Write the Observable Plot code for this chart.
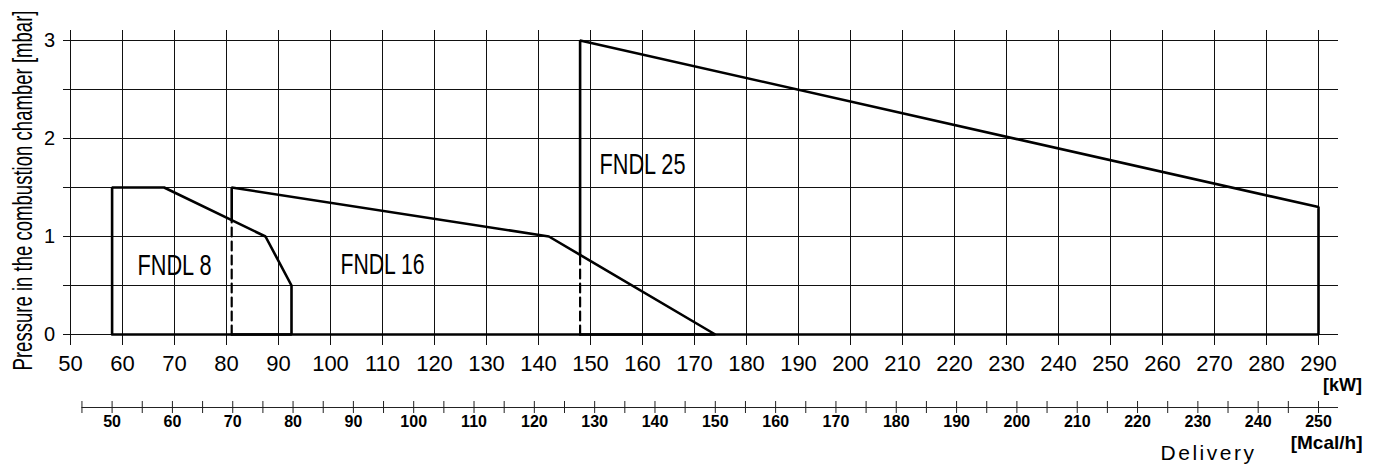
<!DOCTYPE html>
<html><head><meta charset="utf-8">
<script src="https://cdn.jsdelivr.net/npm/d3@7"></script>
<script src="https://cdn.jsdelivr.net/npm/@observablehq/plot@0.6"></script>
<style>
body{margin:0;background:#fff;}
#chart svg{display:block;}
</style></head><body><div id="chart"></div>
<script>
// ---- data ----
const series = ["FNDL 8", "FNDL 16", "FNDL 25"];
const fndl8Kw    = [58, 58, 68, 87.5, 92.5, 92.5, 58];
const fndl8Mbar  = [0, 1.5, 1.5, 1.0, 0.5, 0, 0];
const fndl16Kw   = [81, 142, 174, 81];
const fndl16Mbar = [1.5, 1.0, 0, 0];
const fndl25Kw   = [148, 290, 290, 148];
const fndl25Mbar = [3.0, 1.3, 0, 0];
const labelKw   = [70, 110, 160];
const labelMbar = [0.71, 0.72, 1.74];
const kwTicks   = d3.range(50, 291, 10);
const mbarGrid  = [0, 0.5, 1, 1.5, 2, 2.5, 3];
const mbarTicks = [0, 1, 2, 3];
const mcalMinor = d3.range(45, 251, 5);
const mcalMajor = d3.range(50, 251, 10);
const KW_PER_MCAL = 1.16;
const yTitle = "Pressure in the combustion chamber [mbar]";
const xUnit = "[kW]", x2Unit = "[Mcal/h]", xTitle = "Delivery";

// ---- helpers ----
const pts = (xs, ys, s) => xs.map((x, i) => ({x, y: ys[i], s}));
function topAt(poly, x) {
  let best = 0;
  for (let i = 1; i < poly.length; i++) {
    const a = poly[i - 1], b = poly[i];
    if (a.x === b.x) continue;
    const lo = Math.min(a.x, b.x), hi = Math.max(a.x, b.x);
    if (x < lo || x > hi) continue;
    best = Math.max(best, a.y + (b.y - a.y) * (x - a.x) / (b.x - a.x));
  }
  return best;
}
const p8 = pts(fndl8Kw, fndl8Mbar, series[0]);
const p16raw = pts(fndl16Kw, fndl16Mbar, series[1]);
const p25raw = pts(fndl25Kw, fndl25Mbar, series[2]);
const c16 = topAt(p8, fndl16Kw[0]);
const c25 = topAt(p16raw, fndl25Kw[0]);
const solid = [
  ...p8,
  {x: fndl16Kw[0], y: c16, s: series[1]}, ...p16raw,
  {x: fndl25Kw[0], y: c25, s: series[2]}, ...p25raw
];
const dashed = [
  {x: fndl16Kw[0], y: 0, s: series[1]}, {x: fndl16Kw[0], y: c16, s: series[1]},
  {x: fndl25Kw[0], y: 0, s: series[2]}, {x: fndl25Kw[0], y: c25, s: series[2]}
];
const labels = series.map((s, i) => ({s, x: labelKw[i], y: labelMbar[i]}));

const FONT = "'Liberation Sans', Arial, sans-serif";
const chart = Plot.plot({
  width: 1380, height: 468,
  marginLeft: 70, marginRight: 62, marginTop: 40, marginBottom: 134,
  x: {domain: [50, 290], axis: null},
  y: {domain: [0, 3], axis: null},
  style: {fontFamily: FONT, background: "white", color: "black", overflow: "visible"},
  marks: [
    Plot.ruleX(kwTicks, {x: d => d, y1: 3, y2: 0, insetTop: -10, insetBottom: -11, stroke: "#111", strokeWidth: 1}),
    Plot.ruleY(mbarGrid, {y: d => d, x1: 50, x2: 290, insetLeft: -7, insetRight: -20, stroke: "#111", strokeWidth: 1}),
    Plot.line(solid, {x: "x", y: "y", z: "s", stroke: "black", strokeWidth: 2.6, strokeLinejoin: "miter"}),
    Plot.line(dashed, {x: "x", y: "y", z: "s", stroke: "black", strokeWidth: 2.2, strokeDasharray: "9,5"}),
    Plot.text(labels, {x: "x", y: "y", text: "s", fontSize: 30, fill: "black"}),
    // kW axis labels
    Plot.text(kwTicks, {x: d => d, y: 0, dy: 29, text: d => String(d), fontSize: 22, fill: "black"}),
    Plot.text([xUnit], {x: 290, y: 0, dx: 24, dy: 51, text: d => d, fontSize: 18, fontWeight: "bold", fill: "black"}),
    // mbar axis labels
    Plot.text(mbarTicks, {x: 50, y: d => d, dx: -21, text: d => String(d), fontSize: 20, fill: "black"}),
    Plot.text([yTitle], {frameAnchor: "left", textAnchor: "middle", dx: -47, dy: 3, rotate: -90, text: d => d, fontSize: 28, fill: "black"}),
    // Mcal/h secondary axis
    Plot.ruleY([0], {x1: mcalMinor[0] * KW_PER_MCAL, x2: mcalMajor[mcalMajor.length - 1] * KW_PER_MCAL, insetRight: -20, dy: 73, stroke: "#222", strokeWidth: 1}),
    Plot.ruleX(mcalMinor, {x: d => d * KW_PER_MCAL, y1: 0, y2: 0, insetTop: -6, insetBottom: -6, dy: 73, stroke: "#222", strokeWidth: 1}),
    Plot.text(mcalMajor, {x: d => d * KW_PER_MCAL, y: 0, dy: 87, text: d => String(d), fontSize: 16, fontWeight: "bold", fill: "black"}),
    Plot.text([x2Unit], {x: 290, y: 0, dx: 44, dy: 108, textAnchor: "end", text: d => d, fontSize: 19, fontWeight: "bold", fill: "black"}),
    Plot.text([xTitle], {x: 290, y: 0, dx: -110, dy: 119, text: d => d, fontSize: 21, fill: "black"})
  ]
});
document.getElementById("chart").appendChild(chart);

// condensed lettering like the drawing's CAD font
const squeeze = {"FNDL 8": 74, "FNDL 16": 84, "FNDL 25": 86};
const titleLength = 360;
d3.select(chart).selectAll("text").each(function() {
  const t = this.textContent;
  if (squeeze[t] !== undefined) {
    this.setAttribute("textLength", squeeze[t]);
    this.setAttribute("lengthAdjust", "spacingAndGlyphs");
  }
  if (t === yTitle) {
    const k = titleLength / this.getComputedTextLength();
    const tr = this.getAttribute("transform") || "";
    this.setAttribute("transform", tr + ` scale(${k.toFixed(4)},1)`);
  }
  if (t === xTitle) this.setAttribute("letter-spacing", "2.5");
});
</script></body></html>
